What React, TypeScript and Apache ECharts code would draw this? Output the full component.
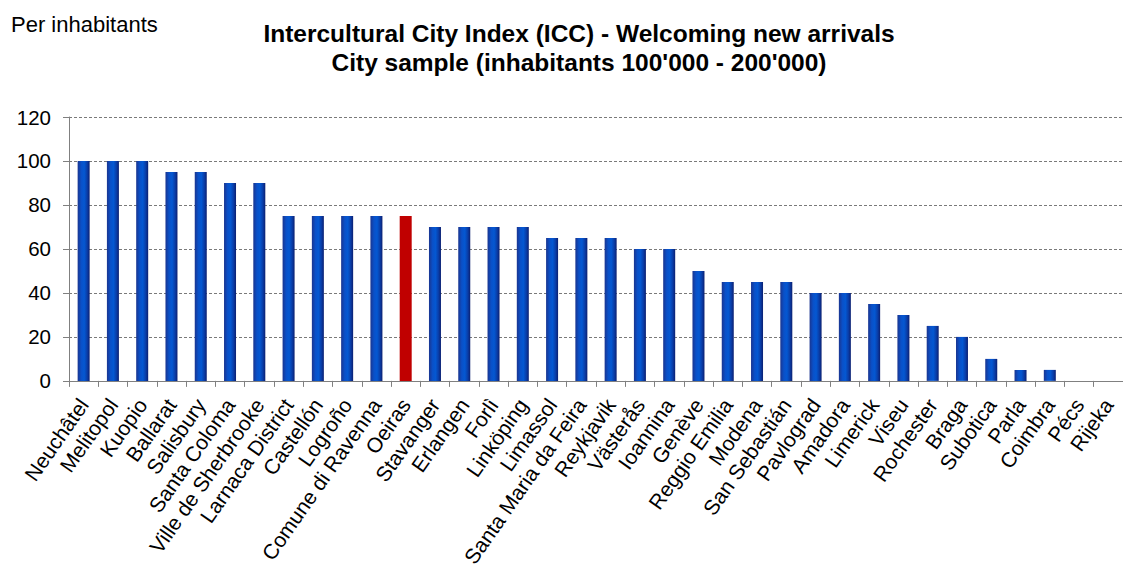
import React, { useEffect, useRef } from "react";
import * as echarts from "echarts";

const cities = [
  "Neuchâtel", "Melitopol", "Kuopio", "Ballarat", "Salisbury", "Santa Coloma",
  "Ville de Sherbrooke", "Larnaca District", "Castellón", "Logroño", "Comune di Ravenna",
  "Oeiras", "Stavanger", "Erlangen", "Forlì", "Linköping", "Limassol",
  "Santa Maria da Feira", "Reykjavik", "Västerås", "Ioannina", "Genève",
  "Reggio Emilia", "Modena", "San Sebastián", "Pavlograd", "Amadora", "Limerick",
  "Viseu", "Rochester", "Braga", "Subotica", "Parla", "Coimbra", "Pécs", "Rijeka",
];
const scores = [
  100, 100, 100, 95, 95, 90, 90, 75, 75, 75, 75, 75, 70, 70, 70, 70, 65, 65, 65,
  60, 60, 50, 45, 45, 45, 40, 40, 35, 30, 25, 20, 10, 5, 5, 0, 0,
];
const highlightCity = "Oeiras";
const yTicks = [0, 20, 40, 60, 80, 100, 120];

const titleLine1 = "Intercultural City Index (ICC) - Welcoming new arrivals";
const titleLine2 = "City sample (inhabitants 100'000 - 200'000)";
const yUnit = "Per inhabitants";

const FONT = "Arial, 'Liberation Sans', sans-serif";

export default function App() {
  const ref = useRef<HTMLDivElement>(null);
  useEffect(() => {
    if (!ref.current) return;
    const chart = echarts.init(ref.current, undefined, { renderer: "svg" });
    const blue = new echarts.graphic.LinearGradient(0, 0, 1, 0, [
      { offset: 0, color: "#1a3590" },
      { offset: 0.3, color: "#0a50c8" },
      { offset: 0.55, color: "#0458d2" },
      { offset: 0.8, color: "#0a3ca6" },
      { offset: 1, color: "#0b1f70" },
    ]);
    chart.setOption({
      animation: false,
      backgroundColor: "#ffffff",
      title: {
        text: titleLine1 + "\n" + titleLine2,
        left: 574,
        top: 14,
        textAlign: "center",
        textStyle: {
          fontFamily: FONT,
          fontSize: 24.5,
          fontWeight: "bold",
          color: "#000",
          lineHeight: 29,
        },
      },
      graphic: [
        {
          type: "text",
          left: 11,
          top: 13,
          style: { text: yUnit, fontFamily: FONT, fontSize: 22, fill: "#000" },
        },
      ],
      grid: { left: 69, right: -6, top: 117, bottom: 189, containLabel: false },
      xAxis: {
        type: "category",
        data: cities,
        axisLine: { show: true, lineStyle: { color: "#808080", width: 1 } },
        axisTick: { show: true, length: 6, lineStyle: { color: "#808080" } },
        axisLabel: {
          interval: 0,
          rotate: 55,
          margin: 20,
          fontFamily: FONT,
          fontSize: 21,
          color: "#000",
        },
      },
      yAxis: {
        type: "value",
        min: yTicks[0],
        max: yTicks[yTicks.length - 1],
        interval: 20,
        axisLine: { show: true, lineStyle: { color: "#808080", width: 1 } },
        axisTick: { show: true, length: 6, lineStyle: { color: "#808080" } },
        axisLabel: { margin: 18, fontFamily: FONT, fontSize: 20.5, color: "#000" },
        splitLine: {
          show: true,
          lineStyle: { color: "#7a7a7a", type: [3, 2], width: 1 },
        },
      },
      series: [
        {
          type: "bar",
          barWidth: 12,
          data: scores.map((v, i) => ({
            value: v,
            itemStyle: {
              color: cities[i] === highlightCity ? "#c00000" : blue,
            },
          })),
        },
      ],
    });
    return () => chart.dispose();
  }, []);
  return (
    <div
      ref={ref}
      style={{ position: "fixed", left: 0, top: 0, width: 1123, height: 570, background: "#fff" }}
    />
  );
}
